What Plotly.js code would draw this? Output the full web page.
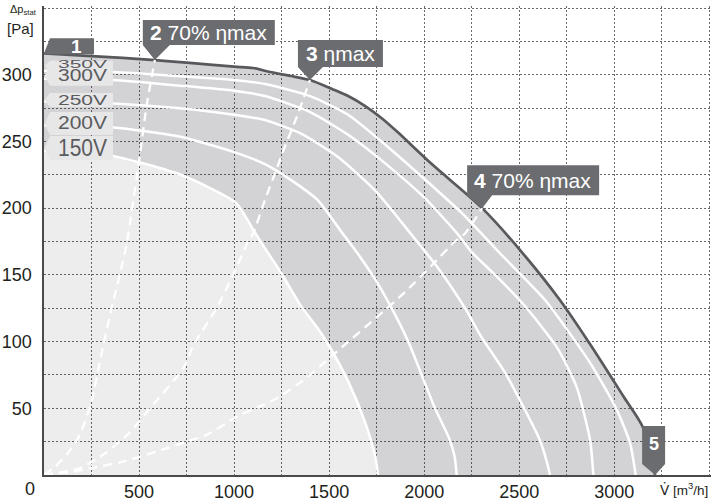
<!DOCTYPE html>
<html><head><meta charset="utf-8">
<script src="https://cdn.plot.ly/plotly-3.0.1.min.js"></script>
<style>html,body{margin:0;padding:0;background:#fff}#chart{width:711px;height:503px}</style>
</head><body><div id="chart"></div>
<script>
// ---- data ----
const envX = [0, 250, 583, 750, 1000, 1100, 1190, 1300, 1399, 1520, 1600, 1690, 1780, 1860, 2040, 2305, 2520, 2715, 2873, 3048, 3150, 3215];
const envY = [316, 314, 311, 309, 306, 305, 302, 299, 296, 289, 284, 276.5, 267, 257, 233, 200, 166, 131, 98, 59, 36, 0];

const v150X = [0, 364, 720, 1010, 1100, 1162, 1250, 1355, 1440, 1495, 1601, 1688, 1741, 1758];
const v150Y = [243, 239, 225, 204, 184, 170, 151, 126, 110, 98, 70, 40, 15, 0];
const v200X = [0, 364, 700, 1000, 1162, 1300, 1440, 1566, 1660, 1741, 1829, 1916, 1987, 2057, 2130, 2160, 2171];
const v200Y = [262, 260.5, 254, 242, 233, 221, 206, 182, 164, 147, 125, 100, 75, 50, 28, 14, 0];
const v250X = [0, 364, 700, 1000, 1162, 1350, 1550, 1750, 1934, 2074, 2215, 2303, 2420, 2504, 2609, 2645, 2662];
const v250Y = [280, 278.5, 275, 270, 266, 256, 238, 212, 180, 155, 125, 103, 78, 56, 26, 10, 0];
const v300X = [0, 364, 700, 1000, 1162, 1400, 1600, 1800, 2000, 2180, 2250, 2373, 2522, 2697, 2802, 2873, 2890];
const v300Y = [297, 296, 292, 288, 284, 272, 255, 233, 208, 180, 167, 150, 128, 96, 66, 26, 0];
const v350X = [0, 364, 700, 1000, 1162, 1400, 1600, 1800, 2000, 2200, 2400, 2637, 2873, 3013, 3083, 3113];
const v350Y = [303, 302, 299, 296, 293, 284, 270, 247, 222, 196, 166, 131, 84, 49, 24, 0];

const eta2X = [0, 48, 118, 188, 250, 294, 355, 399, 437, 504, 539, 583];
const eta2Y = [0, 5, 15, 30, 55, 85, 125, 150, 175, 239, 276, 311];
const eta3X = [0, 48, 188, 329, 452, 557, 733, 785, 908, 995, 1074, 1100, 1162, 1215, 1267, 1337, 1399];
const eta3Y = [0, 1, 5, 17, 32, 50, 80, 97, 125, 150, 175, 181, 206, 226, 246, 271, 296];
const eta4X = [0, 48, 153, 241, 416, 592, 750, 855, 1030, 1162, 1232, 1373, 1513, 1601, 1741, 1899, 2039, 2162, 2215, 2305];
const eta4Y = [0, 1, 2.5, 5, 10, 17.5, 25, 30, 45, 53, 58, 72, 89, 100, 117, 137, 157, 175, 181, 200];

const xTickVals = [500, 1000, 1500, 2000, 2500, 3000, 3500];
const xTickText = ['500', '1000', '1500', '2000', '2500', '3000', ''];
const yTickVals = [50, 100, 150, 200, 250, 300, 350];
const yTickText = ['50', '100', '150', '200', '250', '300', ''];

const voltageNames = ['350V', '300V', '250V', '200V', '150V'];
const pointNames = ['<b>1</b>', '<b>2</b> 70% ηmax', '<b>3</b> ηmax', '<b>4</b> 70% ηmax', '<b>5</b>'];
const pointIdx = [0, 2, 8, 15, 21]; // envelope points where the markers sit

// ---- styles ----
const DARK = '#6b6c6f';
const FONT = '"Liberation Sans", Arial, sans-serif';
const curveLine = {color: '#ffffff', width: 2.5, shape: 'spline', smoothing: 0.6};
const dashLine = {color: '#ffffff', width: 2.3, dash: '9px,6px', shape: 'spline', smoothing: 0.6};

const traces = [
  {x: v150X, y: v150Y, mode: 'lines', fill: 'tozeroy', fillcolor: 'rgba(20,20,30,0.075)', line: {width: 0, shape: 'spline', smoothing: 0.6}, hoverinfo: 'skip'},
  {x: envX, y: envY, mode: 'lines', fill: 'tonexty', fillcolor: 'rgba(20,22,30,0.19)', line: {color: '#58595c', width: 2.7, shape: 'spline', smoothing: 0.7}, hoverinfo: 'skip'},
  {x: v150X, y: v150Y, mode: 'lines', line: curveLine},
  {x: v200X, y: v200Y, mode: 'lines', line: curveLine},
  {x: v250X, y: v250Y, mode: 'lines', line: curveLine},
  {x: v300X, y: v300Y, mode: 'lines', line: curveLine},
  {x: v350X, y: v350Y, mode: 'lines', line: curveLine},
  {x: eta2X, y: eta2Y, mode: 'lines', line: dashLine},
  {x: eta3X, y: eta3Y, mode: 'lines', line: dashLine},
  {x: eta4X, y: eta4Y, mode: 'lines', line: dashLine}
];

// pixel-sized tab shapes anchored at a data point; pts given in screen offsets (y down)
function tab(xd, yd, pts, color) {
  return {type: 'path', xref: 'x', yref: 'y', xsizemode: 'pixel', ysizemode: 'pixel',
    xanchor: xd, yanchor: yd,
    path: 'M' + pts.map(p => p[0] + ',' + (-p[1])).join('L') + 'Z',
    fillcolor: color, line: {width: 0}, layer: 'above'};
}

const shapes = [];
const annotations = [];

// marker tab geometry (screen px relative to tip)
const tabGeom = [
  {pts: [[0,0],[6,-15],[50,-15],[50,1],[0,1]], tx: 32, ty: -7, anchor: 'center', size: 19},
  {pts: [[0,0],[-12,-15],[-12,-40],[120,-40],[120,-15],[15,-15]], tx: -7, ty: -27.5, anchor: 'left', size: 21},
  {pts: [[0,0],[-12,-13],[-12,-40],[73,-40],[73,-13],[13,-13]], tx: -6, ty: -26.5, anchor: 'left', size: 21},
  {pts: [[0,0],[-15,-13],[-15,-43],[117,-43],[117,-13],[10,-13]], tx: -10, ty: -28, anchor: 'left', size: 21},
  {pts: [[0,0],[-13,-11],[-13,-49],[10,-49],[10,-11]], tx: -1.5, ty: -31, anchor: 'center', size: 18}
];
pointNames.forEach((name, i) => {
  const xd = envX[pointIdx[i]], yd = envY[pointIdx[i]], g = tabGeom[i];
  shapes.push(tab(xd, yd, g.pts, DARK));
  annotations.push({x: xd, y: yd, xref: 'x', yref: 'y', text: name, showarrow: false,
    xanchor: g.anchor, yanchor: 'middle', xshift: g.tx, yshift: -g.ty,
    font: {family: FONT, size: g.size, color: '#ffffff'}});
});

// voltage labels, anchored at each curve's start
const voltStart = [v350Y[0], v300Y[0], v250Y[0], v200Y[0], v150Y[0]];
const voltGeom = [
  {top: -10, bot: 2, tip: -5, ty: -7.5},
  {top: -13, bot: 7, tip: -3, ty: -3},
  {top: -8.5, bot: 5.5, tip: -1.5, ty: -2},
  {top: -13.5, bot: 9.5, tip: -1.5, ty: -2.5},
  {top: -14.8, bot: 9.2, tip: -2.8, ty: -3.5}
];
voltageNames.forEach((name, i) => {
  const g = voltGeom[i];
  shapes.push(tab(0, voltStart[i], [[0.5, g.tip], [6, g.top], [69, g.top], [69, g.bot], [6, g.bot]], '#e7e7e8'));
  annotations.push({x: 0, y: voltStart[i], xref: 'x', yref: 'y', text: name, showarrow: false,
    xanchor: 'left', yanchor: 'middle', xshift: 12, yshift: -g.ty,
    font: {family: FONT, size: 21, color: '#5a5b5e'}});
});
const voltScale = [0.55, 0.8, 0.68, 0.88, 1.1];
const voltAnnStart = annotations.length - voltageNames.length;

// axis texts
annotations.push({xref: 'paper', yref: 'paper', x: 0, y: 0, text: '0', showarrow: false,
  xanchor: 'center', yanchor: 'middle', xshift: -14, yshift: -14, font: {family: FONT, size: 18, color: '#231f20'}});
annotations.push({xref: 'paper', yref: 'paper', x: 0, y: 1, text: 'Δp<sub>stat</sub>', showarrow: false,
  xanchor: 'right', yanchor: 'top', xshift: -5, yshift: 5, font: {family: FONT, size: 11, color: '#231f20'}});
annotations.push({xref: 'paper', yref: 'paper', x: 0, y: 1, text: '[Pa]', showarrow: false,
  xanchor: 'right', yanchor: 'top', xshift: -8, yshift: -12, font: {family: FONT, size: 15, color: '#231f20'}});
annotations.push({xref: 'paper', yref: 'paper', x: 1, y: 0,
  text: '<span style="font-family:\'DejaVu Sans\'">V\u0307</span> [m<sup>3</sup>/h]', showarrow: false,
  xanchor: 'right', yanchor: 'top', xshift: -1, yshift: -3, font: {family: FONT, size: 13.5, color: '#231f20'}});

const grid = {showgrid: true, gridcolor: '#6a6a6c', gridwidth: 1, griddash: '2px,2px'};
const layout = {
  width: 711, height: 503,
  margin: {l: 44, r: 0, t: 6, b: 28, pad: 0},
  paper_bgcolor: '#ffffff', plot_bgcolor: '#ffffff',
  showlegend: false,
  font: {family: FONT, color: '#231f20'},
  xaxis: Object.assign({range: [0, 3509], tickmode: 'array', tickvals: xTickVals, ticktext: xTickText,
    showline: true, linecolor: '#4a4a4c', linewidth: 1.7, zeroline: false, ticks: '',
    ticklabelstandoff: 0, tickfont: {family: FONT, size: 18, color: '#231f20'},
    minor: Object.assign({tickmode: 'linear', tick0: 0, dtick: 250, ticks: ''}, grid)}, grid),
  yaxis: Object.assign({range: [0, 351.5], tickmode: 'array', tickvals: yTickVals, ticktext: yTickText,
    showline: true, linecolor: '#4a4a4c', linewidth: 1.7, zeroline: false, ticks: '',
    ticklabelstandoff: 7, tickfont: {family: FONT, size: 18, color: '#231f20'},
    minor: Object.assign({tickmode: 'linear', tick0: 0, dtick: 25, ticks: ''}, grid)}, grid),
  shapes: shapes,
  annotations: annotations
};

Plotly.newPlot('chart', traces, layout, {displayModeBar: false, staticPlot: true}).then(() => {
  document.querySelectorAll('#chart .annotation').forEach(a => {
    const idx = +a.getAttribute('data-index');
    const k = idx - voltAnnStart;
    if (k >= 0 && k < voltageNames.length) {
      const t = a.querySelector('text.annotation-text');
      if (!t) return;
      const bb = t.getBBox();
      const cy = bb.y + bb.height / 2;
      const s = voltScale[k];
      t.setAttribute('transform', 'translate(0,' + (cy * (1 - s)) + ') scale(1,' + s + ')');
    }
  });
});
</script>
</body></html>
